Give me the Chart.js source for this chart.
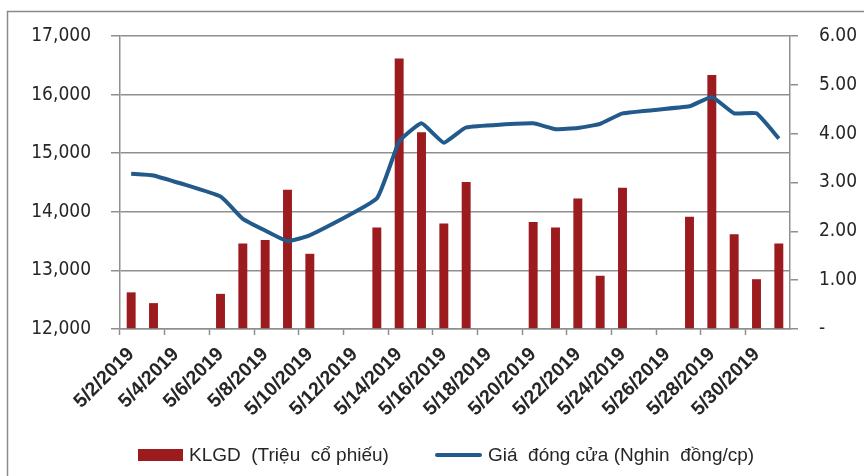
<!DOCTYPE html>
<html>
<head>
<meta charset="utf-8">
<script src="https://cdn.jsdelivr.net/npm/chart.js@4/dist/chart.umd.min.js"></script>
<style>
  html, body { margin: 0; padding: 0; background: #fff; }
  #wrap { position: relative; width: 864px; height: 476px; }
  canvas { display: block; }
  #legend {
    position: absolute; left: 138px; top: 445px; display: flex; align-items: center;
    font: 19px "Liberation Sans", Arial, sans-serif; color: #262626; line-height: 20px;
    white-space: pre;
  }
  .item { display: flex; align-items: center; margin-right: 46px; }
  .swatch { display: inline-block; width: 45px; margin-right: 6px; }
</style>
</head>
<body>
<div id="wrap">
  <canvas id="priceChart" width="864" height="476"></canvas>
  <div id="legend"></div>
</div>
<script>
const dates = [
  "5/2/2019", "5/3/2019", "5/4/2019", "5/5/2019", "5/6/2019", "5/7/2019",
  "5/8/2019", "5/9/2019", "5/10/2019", "5/11/2019", "5/12/2019", "5/13/2019",
  "5/14/2019", "5/15/2019", "5/16/2019", "5/17/2019", "5/18/2019", "5/19/2019",
  "5/20/2019", "5/21/2019", "5/22/2019", "5/23/2019", "5/24/2019", "5/25/2019",
  "5/26/2019", "5/27/2019", "5/28/2019", "5/29/2019", "5/30/2019", "5/31/2019",
];
// volume, million shares (right axis); weekends have no trading
const volume = [
  0.75, 0.53, null, null, 0.72, 1.75, 1.82, 2.85, 1.54, null, null, 2.08,
  5.54, 4.03, 2.16, 3.01, null, null, 2.19, 2.08, 2.67, 1.09, 2.89, null,
  null, 2.30, 5.20, 1.94, 1.02, 1.75,
];
// closing price (left axis)
const closePrice = [
  14650, 14620, null, null, 14260, 13880, 13680, 13500, 13600, null, null, 14230,
  15200, 15510, 15180, 15440, null, null, 15510, 15410, 15430, 15500, 15680, null,
  null, 15800, 15960, 15680, 15680, 15250,
];
const leftTicks = [12000, 13000, 14000, 15000, 16000, 17000];
const rightTicks = [0, 1, 2, 3, 4, 5, 6];

const gray = "#8f8f8f";
const textColor = "#262626";

// outer frame of the chart, cropped at right and bottom like the picture
const framePlugin = {
  id: "frame",
  beforeDraw(chart) {
    const c = chart.ctx;
    c.save();
    c.fillStyle = "#fff";
    c.fillRect(0, 0, chart.width, chart.height);
    c.strokeStyle = "#8a8a8a";
    c.lineWidth = 1.5;
    c.strokeRect(7.5, 11.5, chart.width + 20, chart.height + 20);
    c.restore();
  },
};

const ctx = document.getElementById("priceChart").getContext("2d");
const chart = new Chart(ctx, {
  type: "bar",
  data: {
    labels: dates,
    datasets: [
      {
        label: "KLGD  (Triệu  cổ phiếu)",
        data: volume,
        backgroundColor: "#9b1b1f",
        yAxisID: "yVol",
        barPercentage: 0.4,
        categoryPercentage: 1,
        order: 2,
      },
      {
        type: "line",
        label: "Giá  đóng cửa (Nghin  đồng/cp)",
        data: closePrice,
        borderColor: "#215a8b",
        backgroundColor: "#215a8b",
        borderWidth: 4,
        pointRadius: 0,
        tension: 0.12,
        spanGaps: true,
        yAxisID: "yPrice",
        order: 1,
      },
    ],
  },
  options: {
    responsive: false,
    animation: false,
    devicePixelRatio: 1,
    layout: { padding: { left: 29, right: 0, top: 36, bottom: 7 } },
    plugins: {
      tooltip: { enabled: false },
      legend: { display: false },
    },
    scales: {
      x: {
        offset: true,
        grid: {
          offset: true,
          drawOnChartArea: false,
          tickLength: 6,
          tickColor: (c) => (c.index % 2 === 0 ? gray : "rgba(0,0,0,0)"),
          tickWidth: 1.5,
        },
        border: { color: gray, width: 1.5 },
        ticks: {
          autoSkip: false,
          minRotation: 45,
          maxRotation: 45,
          padding: 8,
          color: textColor,
          font: { family: "'Liberation Sans', Arial", size: 19.5, weight: "bold" },
          callback: (v, i) => (i % 2 === 0 ? dates[i] : ""),
        },
        afterFit: (s) => { s.height = 140; },
      },
      yPrice: {
        position: "left",
        min: leftTicks[0],
        max: leftTicks[leftTicks.length - 1],
        afterBuildTicks: (s) => { s.ticks = leftTicks.map((v) => ({ value: v })); },
        grid: { color: gray, lineWidth: 1.5, tickLength: 9 },
        border: { color: gray, width: 1.5 },
        ticks: {
          padding: 20,
          color: textColor,
          font: { family: "'DejaVu Sans Condensed', 'DejaVu Sans'", size: 19 },
          callback: (v) => v.toLocaleString("en-US"),
        },
        afterFit: (s) => { s.width = 91; },
      },
      yVol: {
        position: "right",
        min: rightTicks[0],
        max: rightTicks[rightTicks.length - 1],
        afterBuildTicks: (s) => { s.ticks = rightTicks.map((v) => ({ value: v })); },
        grid: { drawOnChartArea: false, color: gray, lineWidth: 1.5, tickLength: 8 },
        border: { color: gray, width: 1.5 },
        ticks: {
          padding: 21,
          color: textColor,
          font: { family: "'DejaVu Sans Condensed', 'DejaVu Sans'", size: 19 },
          callback: (v) => (v === 0 ? "-" : v.toFixed(2)),
        },
        afterFit: (s) => { s.width = 74; },
      },
    },
  },
  plugins: [framePlugin],
});

// html legend built from the chart's datasets
const legendEl = document.getElementById("legend");
chart.data.datasets.forEach((ds) => {
  const item = document.createElement("div");
  item.className = "item";
  const sw = document.createElement("span");
  sw.className = "swatch";
  if (ds.type === "line") {
    sw.style.height = "4px";
    sw.style.borderRadius = "2px";
    sw.style.width = "47px";
    sw.style.background = ds.borderColor;
  } else {
    sw.style.height = "12px";
    sw.style.background = ds.backgroundColor;
  }
  const txt = document.createElement("span");
  txt.textContent = ds.label;
  item.appendChild(sw);
  item.appendChild(txt);
  legendEl.appendChild(item);
});
</script>
</body>
</html>
